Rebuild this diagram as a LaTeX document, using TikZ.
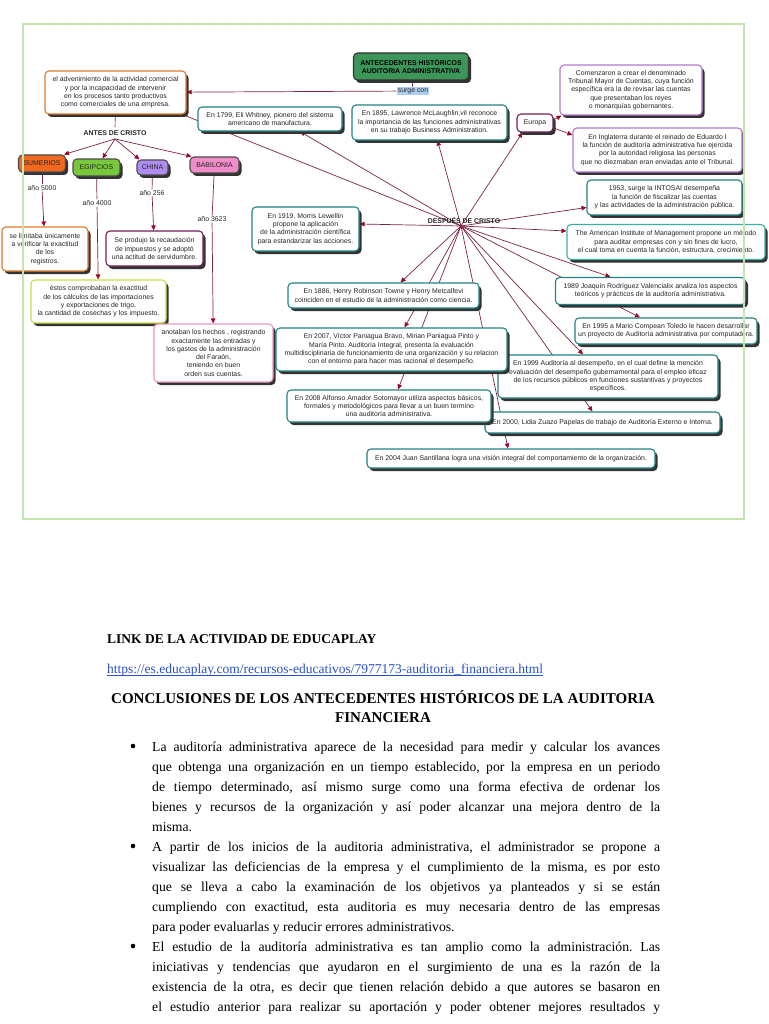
\documentclass[tikz,border=0pt]{standalone}
\usepackage{fontspec}
\setmainfont{Liberation Serif}
\newfontfamily\cmsans{Liberation Sans}
\usetikzlibrary{shadows,arrows.meta,calc}
\pgfdeclarelayer{bg}
\pgfsetlayers{bg,main}
\definecolor{lineC}{RGB}{125,35,65}
\definecolor{arrC}{RGB}{150,10,40}
\definecolor{tealB}{RGB}{35,130,130}
\definecolor{tealL}{RGB}{60,175,165}
\definecolor{frameG}{RGB}{196,230,172}
\definecolor{titleG}{RGB}{60,150,90}
\definecolor{orangeB}{RGB}{225,120,40}
\definecolor{sumF}{RGB}{240,105,30}
\definecolor{egiF}{RGB}{120,200,60}
\definecolor{chiF}{RGB}{175,140,240}
\definecolor{babF}{RGB}{240,140,200}
\definecolor{yellowB}{RGB}{200,220,70}
\definecolor{purpleB}{RGB}{110,30,90}
\definecolor{violetB}{RGB}{180,120,210}
\definecolor{pinkB}{RGB}{235,150,190}
\definecolor{linkB}{RGB}{40,80,200}
\definecolor{surgeF}{RGB}{175,205,240}
\newcommand\cmf{\cmsans\fontsize{6.9}{8.3}\selectfont}
\newcommand\bodyf{\fontsize{13.7}{16}\selectfont}
\newcommand\linkf{\fontsize{13.5}{16}\selectfont}
\newcommand\headf{\fontsize{15}{18}\selectfont}
\frenchspacing
\tikzset{
  cmtxt/.style={font=\cmf, text=black!85, align=center},
  cbox/.style={cmtxt, draw, fill=white, rounded corners=4pt, line width=1.1pt, inner sep=1.2pt,
    drop shadow={shadow xshift=2.5pt, shadow yshift=-3pt, fill=black!80, opacity=1}},
  tbox/.style={cbox, draw=tealB},
  civbox/.style={cbox, draw=black!70, inner sep=1pt},
  yrlabel/.style={cmtxt, fill=white, inner sep=0.8pt},
  conn/.style={draw=lineC, line width=0.7pt},
  arrline/.style={conn, -{Triangle[length=5pt,width=4.5pt,fill=arrC,color=arrC]}},
  bodytxt/.style={font=\bodyf, text=black, inner sep=0pt},
  bulletdot/.style={circle, fill=black, inner sep=0pt, minimum size=4.6pt},
}
\newcommand\jline[3]{\node[bodytxt, anchor=base west] (#1) at (152,#2) {\makebox[508pt][s]{#3}};}
\newcommand\eline[3]{\node[bodytxt, anchor=base west] (#1) at (152,#2) {#3};}
\begin{document}
\begin{tikzpicture}[x=1pt,y=-1pt]
\useasboundingbox (0,0) rectangle (768,1024);

% ---------- top part ----------
\node[cbox, fill=titleG, draw=black!80, font=\cmf\bfseries, text=black, minimum width=115pt, minimum height=27pt] (title) at (411,66.5) {ANTECEDENTES HISTÓRICOS\\AUDITORIA ADMINISTRATIVA};
\node[cmtxt, fill=surgeF, inner sep=1.2pt] (surge) at (413,91) {surge con};
\node[cbox, draw=orangeB, minimum width=141pt, minimum height=43pt] (adv) at (115.5,92.5) {el advenimiento de la actividad comercial\\ y por la incapacidad de intervenir\\ en los procesos tanto productivos\\ como comerciales de una empresa.};
\node[cmtxt, font=\cmf\bfseries] (antes) at (115,133) {ANTES DE CRISTO};

\node[civbox, fill=sumF, minimum width=47pt, minimum height=17pt] (sum) at (42,163.5) {SUMERIOS};
\node[civbox, fill=egiF, minimum width=47pt, minimum height=17pt] (egi) at (96.5,167.5) {EGIPCIOS};
\node[civbox, fill=chiF, minimum width=31pt, minimum height=15pt] (chi) at (152.5,167.5) {CHINA};
\node[civbox, fill=babF, minimum width=49pt, minimum height=16pt] (bab) at (214.5,165) {BABILONIA};

\node[cbox, draw=orangeB, minimum width=86pt, minimum height=44pt] (sumT) at (45,249) {se limitaba únicamente\\ a verificar la exactitud\\ de los\\ registros.};
\node[cbox, draw=yellowB, minimum width=135pt, minimum height=43pt] (egiT) at (98.5,301.5) {éstos comprobaban la exactitud\\ de los cálculos de las importaciones\\ y exportaciones de trigo,\\ la cantidad de cosechas y los impuesto.};
\node[cbox, draw=purpleB, minimum width=97pt, minimum height=35pt] (chiT) at (154.5,248.5) {Se produjo la recaudación\\ de impuestos y se adoptó\\ una actitud de servidumbre.};
\node[cbox, draw=pinkB, minimum width=119pt, minimum height=58pt] (babT) at (213.5,353) {anotaban los hechos , registrando\\ exactamente las entradas y\\ los gastos de la administración\\ del Faraón,\\ teniendo en buen\\ orden sus cuentas.};

\node[yrlabel] (y1) at (42,188) {año 5000};
\node[yrlabel] (y2) at (97,203) {año 4000};
\node[yrlabel] (y3) at (152,193) {año 256};
\node[yrlabel] (y4) at (212,219) {año 3623};

\node[tbox, minimum width=144pt, minimum height=24pt] (eli) at (270,119) {En 1799, Eli Whitney, pionero del sistema\\ americano de manufactura.};
\node[tbox, minimum width=155pt, minimum height=35pt] (mcl) at (429.5,122.5) {En 1895, Lawrence McLaughlin,vil reconoce\\ la importancia de las funciones administrativas\\ en su trabajo Business Administration.};
\node[cbox, draw=purpleB, minimum width=36pt, minimum height=18pt] (eur) at (535,123) {Europa};
\node[cbox, draw=violetB, minimum width=142pt, minimum height=50pt] (trib) at (631,90) {Comenzaron a crear el denominado\\ Tribunal Mayor de Cuentas, cuya función\\ específica era la de revisar las cuentas\\ que presentaban los reyes\\ o monarquías gobernantes.};
\node[cbox, draw=violetB, minimum width=169pt, minimum height=44pt] (ing) at (657.5,150) {En Inglaterra durante el reinado de Eduardo I\\ la función de auditoría administrativa fue ejercida\\ por la autoridad religiosa las personas\\ que no diezmaban eran enviadas ante el Tribunal.};
\node[tbox, minimum width=155pt, minimum height=35pt] (into) at (664.5,197.5) {1953, surge la INTOSAI desempeña\\ la función de fiscalizar las cuentas\\ y las actividades de la administración pública.};
\node[cbox, draw=tealL, minimum width=198pt, minimum height=35pt] (aim) at (666,242) {The American Institute of Management propone un método\\ para auditar empresas con y sin fines de lucro,\\ el cual toma en cuenta la función, estructura, crecimiento.};
\node[tbox, minimum width=190pt, minimum height=27pt] (joa) at (650.5,291) {1989 Joaquín Rodríguez Valencialix analiza los aspectos\\ teóricos y prácticos de la auditoría administrativa.};
\node[tbox, minimum width=182pt, minimum height=26pt] (mar) at (666,331) {En 1995 a Mario Compean Toledo le hacen desarrollar\\ un proyecto de Auditoría administrativa por computadora.};
\node[tbox, minimum width=107pt, minimum height=44pt] (mor) at (305.5,229) {En 1919, Morris Lewellin\\ propone la aplicación\\ de la administración científica\\ para estandarizar las acciones.};
\node[cmtxt, font=\cmf\bfseries] (desp) at (464,220) {DESPUÉS DE CRISTO};
\coordinate (hub) at (461,226);
\node[tbox, minimum width=191pt, minimum height=25pt] (hen) at (383.5,295.5) {En 1886, Henry Robinson Towne y Henry Metcalfevi\\ coinciden en el estudio de la administración como ciencia.};
\node[tbox, minimum width=220pt, minimum height=43pt] (s99) at (608,376.5) {En 1999 Auditoría al desempeño, en el cual define la mención\\ evaluación del desempeño gubernamental para el empleo eficaz\\ de los recursos públicos en funciones sustantivas y proyectos\\ específicos.};
\node[tbox, minimum width=231pt, minimum height=43pt] (vic) at (391.5,349.5) {En 2007, Víctor Paniagua Bravo, Mirian Paniagua Pinto y\\ María Pinto. Auditoría Integral, presenta la evaluación\\ multidisciplinaria de funcionamiento de una organización y su relacion\\ con el entorno para hacer mas racional el desempeño.};
\node[tbox, minimum width=235pt, minimum height=21pt] (lid) at (602.5,422.5) {En 2000, Lidia Zuazo Papelas de trabajo de Auditoría Externo e Interna.};
\node[tbox, minimum width=204pt, minimum height=32pt] (alf) at (389,406) {En 2008 Alfonso Amador Sotomayor utiliza aspectos básicos,\\ formales y metodológicos para llevar a un buen termino\\ una auditoría administrativa.};
\node[tbox, minimum width=288pt, minimum height=19pt] (jua) at (511,458.5) {En 2004 Juan Santillana logra una visión integral del comportamiento de la organización.};

\begin{pgfonlayer}{bg}
\draw[conn] (title) -- (surge);
\draw[arrline] (surge) -- (adv);
\draw[conn] (adv) -- (antes);
\draw[conn] ($(adv.south east)+(-4,0)$) -- (hub);
\draw[arrline] (antes.south) -- ($(sum.north east)+(-2,0)$);
\draw[arrline] (antes.south) -- ($(egi.north)+(6,0)$);
\draw[arrline] (antes.south) -- ($(chi.north west)+(3,0)$);
\draw[arrline] (antes.south) -- ($(bab.north west)+(2,0)$);
\draw[conn] (sum) -- (y1);
\draw[arrline] (y1) -- (sumT);
\draw[conn] (egi) -- (y2);
\draw[arrline] (y2) -- (egiT);
\draw[conn] (chi) -- (y3);
\draw[arrline] (y3) -- (chiT);
\draw[conn] (bab) -- (y4);
\draw[arrline] (y4) -- (babT);
\draw[arrline] (hub) -- ($(eli.south)+(30,0)$);
\draw[arrline] (hub) -- ($(mcl.south)+(8,0)$);
\draw[arrline] (hub) -- ($(eur.south west)+(6,0)$);
\draw[arrline] ($(eur.east)+(0,-3)$) -- ($(trib.south west)+(2,0)$);
\draw[arrline] ($(eur.east)+(0,5)$) -- ($(ing.west)+(0,-15)$);
\draw[arrline] (hub) -- ($(into.west)+(0,10)$);
\draw[arrline] (hub) -- ($(aim.west)+(0,-11)$);
\draw[arrline] (hub) -- ($(joa.north)+(-40,0)$);
\draw[arrline] (hub) -- ($(mar.north)+(-26,0)$);
\draw[arrline] (hub) -- ($(s99.north)+(-25,0)$);
\draw[arrline] (hub) -- ($(lid.north)+(-10,0)$);
\draw[arrline] (hub) -- ($(jua.north)+(-3,0)$);
\draw[arrline] (hub) -- ($(mor.east)+(0,-5)$);
\draw[arrline] (hub) -- ($(hen.north)+(17,0)$);
\draw[arrline] (hub) -- ($(vic.north)+(13,0)$);
\draw[arrline] (hub) -- ($(alf.north)+(9,0)$);
\end{pgfonlayer}

\draw[frameG, line width=2.5pt] (23,24) rectangle (744,519);

% ---------- bottom text ----------
\node[bodytxt, anchor=base west, font=\linkf\bfseries] (link) at (107,643) {LINK DE LA ACTIVIDAD DE EDUCAPLAY};
\node[bodytxt, anchor=base west, font=\linkf, text=linkB] (url) at (107,673) {https://es.educaplay.com/recursos-educativos/7977173-auditoria\_financiera.html};
\draw[linkB, line width=0.7pt] ($(url.base west)+(0,2)$) -- ($(url.base east)+(0,2)$);
\node[bodytxt, anchor=base, font=\headf\bfseries] (conc1) at (383,703) {CONCLUSIONES DE LOS ANTECEDENTES HISTÓRICOS DE LA AUDITORIA};
\node[bodytxt, anchor=base, font=\headf\bfseries] (conc2) at (383,722) {FINANCIERA};

\node[bulletdot] (b1) at (133,746) {};
\node[bulletdot] (b2) at (133,846) {};
\node[bulletdot] (b3) at (133,946) {};

\jline{l1}{751}{La auditoría administrativa aparece de la necesidad para medir y calcular los avances}
\jline{l2}{771}{que obtenga una organización en un tiempo establecido, por la empresa en un periodo}
\jline{l3}{791}{de tiempo determinado, así mismo surge como una forma efectiva de ordenar los}
\jline{l4}{811}{bienes y recursos de la organización y así poder alcanzar una mejora dentro de la}
\eline{l5}{831}{misma.}
\jline{l6}{851}{A partir de los inicios de la auditoria administrativa, el administrador se propone a}
\jline{l7}{871}{visualizar las deficiencias de la empresa y el cumplimiento de la misma, es por esto}
\jline{l8}{891}{que se lleva a cabo la examinación de los objetivos ya planteados y si se están}
\jline{l9}{911}{cumpliendo con exactitud, esta auditoria es muy necesaria dentro de las empresas}
\eline{l10}{931}{para poder evaluarlas y reducir errores administrativos.}
\jline{l11}{951}{El estudio de la auditoría administrativa es tan amplio como la administración. Las}
\jline{l12}{971}{iniciativas y tendencias que ayudaron en el surgimiento de una es la razón de la}
\jline{l13}{991}{existencia de la otra, es decir que tienen relación debido a que autores se basaron en}
\jline{l14}{1011}{el estudio anterior para realizar su aportación y poder obtener mejores resultados y}
\end{tikzpicture}
\end{document}
